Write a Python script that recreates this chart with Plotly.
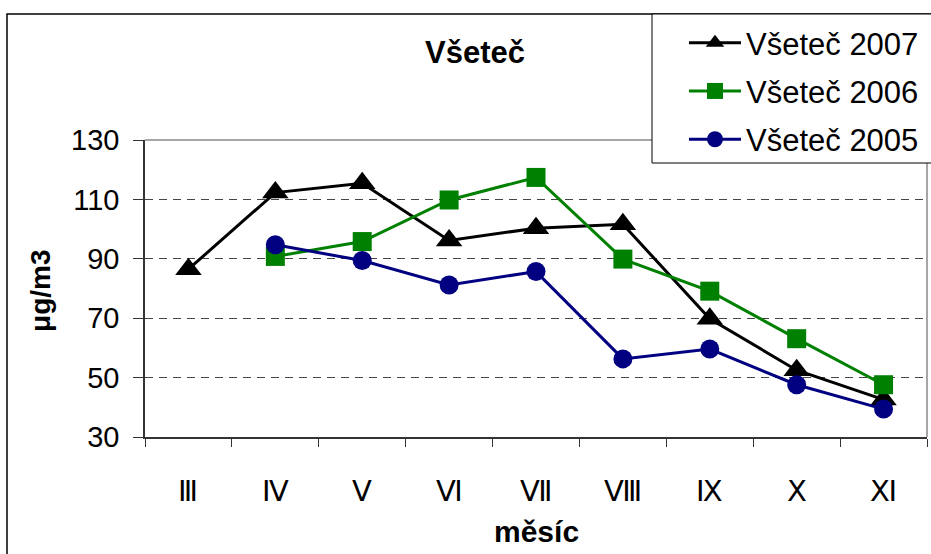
import plotly.graph_objects as go

# Monthly averages, μg/m3, station Všeteč
months = ["Ⅲ", "Ⅳ", "Ⅴ", "Ⅵ", "Ⅶ", "Ⅷ", "Ⅸ", "Ⅹ", "Ⅺ"]
y2007 = [86.5, 112.3, 115.4, 96.2, 100.3, 101.6, 69.8, 52.5, 42.6]
y2006 = [None, 90.8, 95.8, 109.8, 117.4, 89.9, 79.1, 63.1, 47.6]
y2005 = [None, 94.7, 89.4, 81.2, 85.7, 56.3, 59.6, 47.6, 39.4]

series = [
    ("Všeteč 2007", y2007, "#000000", "triangle-up", 23),
    ("Všeteč 2006", y2006, "#008000", "square", 19),
    ("Všeteč 2005", y2005, "#000080", "circle", 19),
]

FONT = "Liberation Sans, Arial, sans-serif"
W, H = 931, 554
L, R, T, B = 145, 4, 140, 117
PW, PH = W - L - R, H - T - B


def px(x):
    return (x - L) / PW


def py(y):
    return (H - B - y) / PH


fig = go.Figure()
for i, (name, vals, color, sym, size) in enumerate(series):
    fig.add_trace(go.Scatter(
        x=months, y=vals, name=name, mode="lines+markers",
        legendgroup=str(i),
        line=dict(color=color, width=3),
        marker=dict(symbol=sym, size=size, color=color, line=dict(width=0)),
        connectgaps=False,
    ))

shapes = [
    # outer frame
    dict(type="rect", xref="paper", yref="paper", x0=px(7), x1=px(940),
         y0=py(600), y1=py(14), line=dict(color="#000", width=1.5),
         fillcolor="rgba(0,0,0,0)", layer="above"),
    # plot area top and right border
    dict(type="line", xref="paper", yref="paper", x0=0, x1=px(652), y0=1, y1=1,
         line=dict(color="#888", width=1.5), layer="above"),
    dict(type="line", xref="paper", yref="paper", x0=1, x1=1, y0=0, y1=py(163),
         line=dict(color="#888", width=1.5), layer="above"),
    # legend box
    dict(type="rect", xref="paper", yref="paper", x0=px(652), x1=px(940),
         y0=py(163), y1=py(14), line=dict(color="#000", width=1),
         fillcolor="#fff", layer="above"),
]

annotations = [
    dict(text="<b>Všeteč</b>", xref="paper", yref="paper", x=px(475), y=py(52),
         showarrow=False, xanchor="center", yanchor="middle",
         font=dict(family=FONT, size=31, color="#000")),
    dict(text="<b>μg/m3</b>", xref="paper", yref="paper", x=px(40), y=py(291),
         showarrow=False, xanchor="center", yanchor="middle", textangle=-90,
         font=dict(family=FONT, size=28, color="#000")),
    dict(text="<b>měsíc</b>", xref="paper", yref="paper", x=px(536), y=py(531),
         showarrow=False, xanchor="center", yanchor="middle",
         font=dict(family=FONT, size=30, color="#000")),
]

fig.update_layout(
    width=W, height=H,
    margin=dict(l=L, r=R, t=T, b=B, pad=0),
    paper_bgcolor="#fff", plot_bgcolor="#fff",
    font=dict(family=FONT, size=28, color="#000"),
    showlegend=True,
    legend=dict(
        x=px(684), y=py(16), xanchor="left", yanchor="top",
        bgcolor="rgba(0,0,0,0)", borderwidth=0,
        font=dict(family=FONT, size=31, color="#000"),
        tracegroupgap=5, itemwidth=52, traceorder="grouped",
    ),
    shapes=shapes,
    annotations=annotations,
)

fig.update_xaxes(
    type="category", range=[-0.5, len(months) - 0.5],
    showline=True, linecolor="#333", linewidth=1.5,
    ticks="outside", tickson="boundaries", ticklen=8, tickcolor="#333", tickwidth=1,
    showgrid=False, ticklabelstandoff=27,
    tickfont=dict(family=FONT, size=29, color="#000"),
)
fig.update_yaxes(
    range=[30, 130], tickvals=[30, 50, 70, 90, 110, 130],
    showline=True, linecolor="#333", linewidth=1.5,
    ticks="outside", ticklen=10, tickcolor="#333", tickwidth=1,
    showgrid=True, gridcolor="#444", gridwidth=1, griddash="8px,6px",
    zeroline=False, ticklabelstandoff=8,
    tickfont=dict(family=FONT, size=29, color="#000"),
)

fig.write_html("out.html")
